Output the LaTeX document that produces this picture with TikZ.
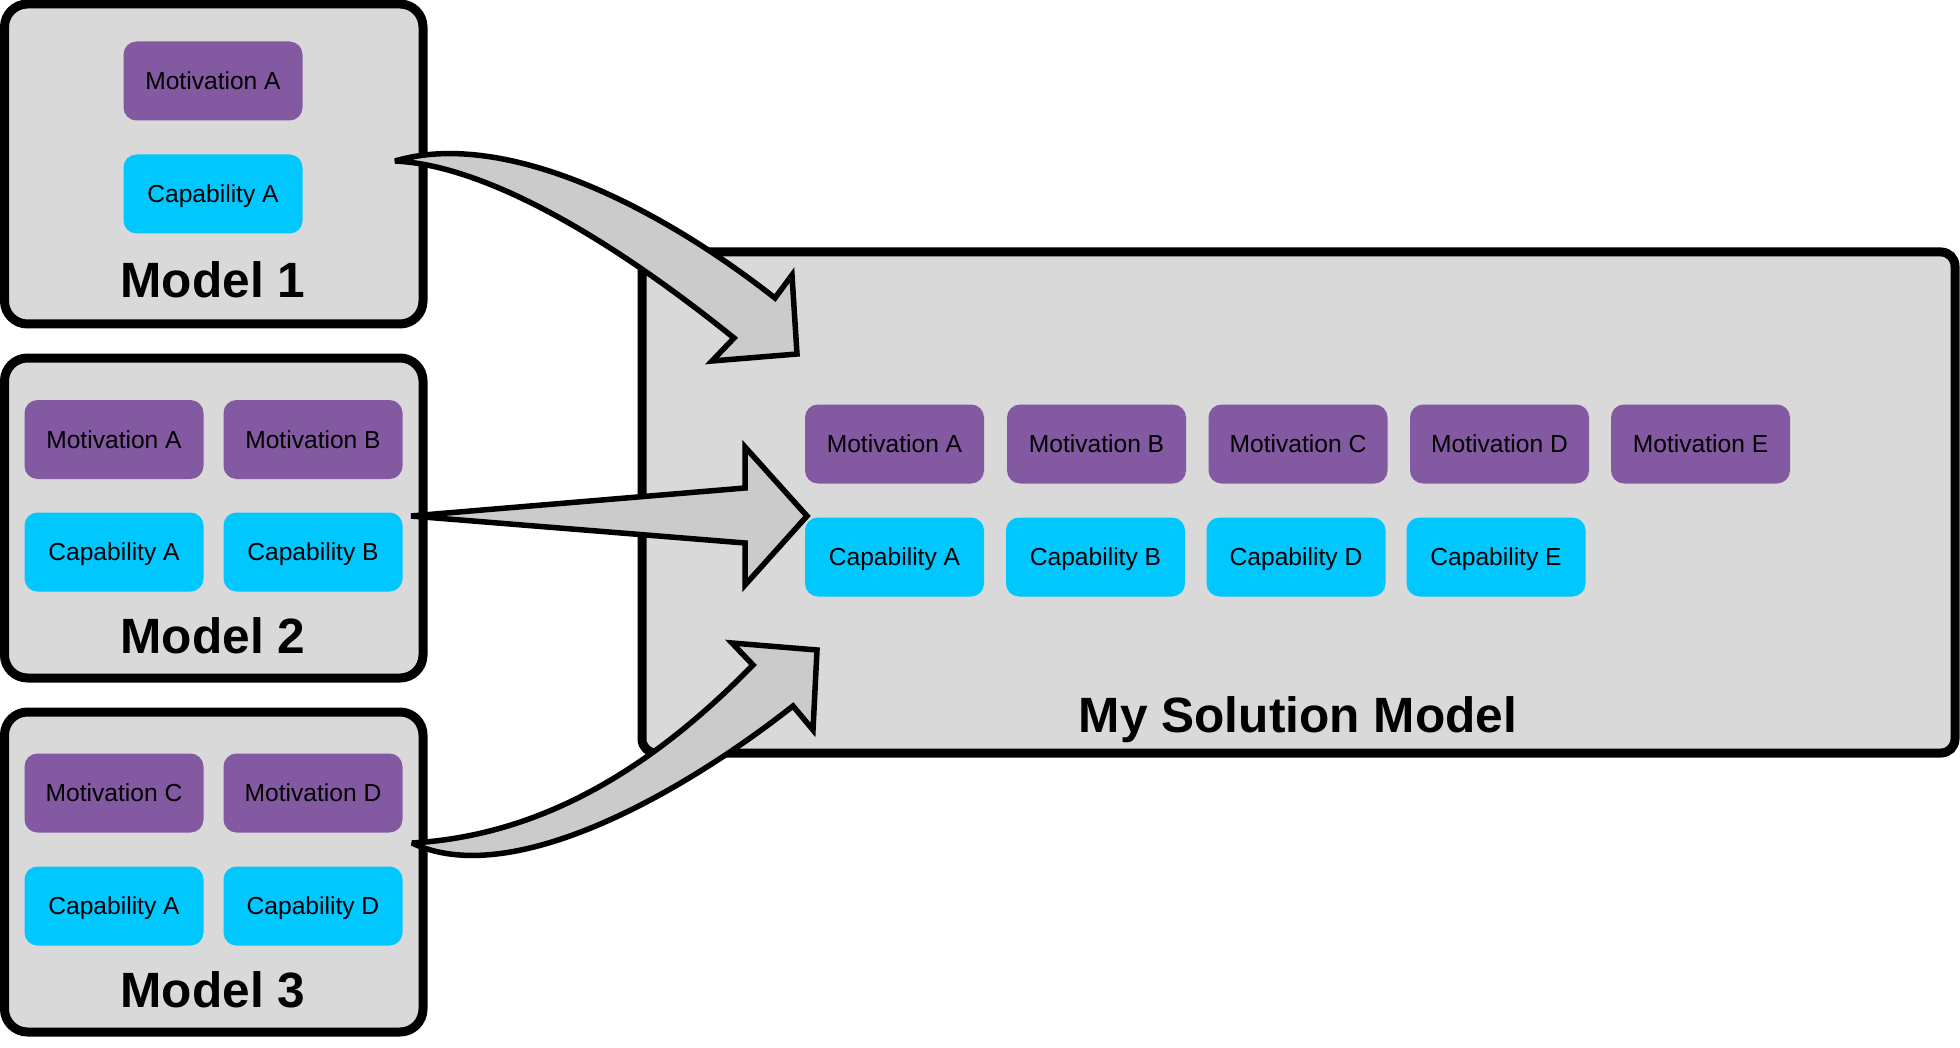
\documentclass[tikz,border=0pt]{standalone}
\usepackage{fontspec}
\setmainfont{Liberation Sans}
\definecolor{motcol}{RGB}{131,89,161}
\definecolor{capcol}{RGB}{0,200,255}
\definecolor{boxgray}{RGB}{217,217,217}
\definecolor{arrowgray}{RGB}{203,203,203}
\tikzset{
  modelbox/.style={draw=black, line width=4.5pt, fill=boxgray, rounded corners=11.5pt,
    inner sep=0pt, minimum width=209.25pt, minimum height=160pt},
  solbox/.style={draw=black, line width=4.5pt, fill=boxgray, rounded corners=7pt,
    inner sep=0pt, minimum width=656.5pt, minimum height=250.5pt},
  itembox/.style={rounded corners=6.5pt, inner sep=0pt, minimum width=89.5pt,
    minimum height=39.5pt, font=\fontsize{12.3}{14}\selectfont,
    text height=8.8pt, text depth=0pt},
  motbox/.style={itembox, fill=motcol},
  capbox/.style={itembox, fill=capcol},
  titletext/.style={font=\bfseries\fontsize{24.8}{28}\selectfont, anchor=base, inner sep=0pt},
  blockarrow/.style={draw=black, line width=2.75pt, fill=arrowgray, line join=miter, miter limit=4}
}
\begin{document}
\begin{tikzpicture}[x=0.5pt,y=-0.5pt]
\useasboundingbox (0,0) rectangle (1960,1048);

% Model boxes
\node[modelbox] (m1) at (213.75,164) {};
\node[modelbox] (m2) at (213.75,518) {};
\node[modelbox] (m3) at (213.75,872) {};
% Solution box
\node[solbox] (sol) at (1298.5,502.5) {};

% Model 1 contents
\node[motbox] (m1ma) at (213,81) {Motivation A};
\node[capbox] (m1ca) at (213,194) {Capability A};
\node[titletext] (m1t) at (213,298) {Model 1};

% Model 2 contents
\node[motbox] (m2ma) at (114,439.5) {Motivation A};
\node[motbox] (m2mb) at (313,439.5) {Motivation B};
\node[capbox] (m2ca) at (114,552) {Capability A};
\node[capbox] (m2cb) at (313,552) {Capability B};
\node[titletext] (m2t) at (213,653) {Model 2};

% Model 3 contents
\node[motbox] (m3mc) at (114,793) {Motivation C};
\node[motbox] (m3md) at (313,793) {Motivation D};
\node[capbox] (m3ca) at (114,906) {Capability A};
\node[capbox] (m3cd) at (313,906) {Capability D};
\node[titletext] (m3t) at (213,1007) {Model 3};

% Solution contents
\node[motbox] (sma) at (894.5,444) {Motivation A};
\node[motbox] (smb) at (1096.5,444) {Motivation B};
\node[motbox] (smc) at (1298,444) {Motivation C};
\node[motbox] (smd) at (1499.5,444) {Motivation D};
\node[motbox] (sme) at (1700.5,444) {Motivation E};
\node[capbox] (sca) at (894.5,557) {Capability A};
\node[capbox] (scb) at (1095.5,557) {Capability B};
\node[capbox] (scd) at (1296,557) {Capability D};
\node[capbox] (sce) at (1496,557) {Capability E};
\node[titletext] (solt) at (1298,732) {My Solution Model};

% Block arrows
\draw[blockarrow] (395,161) .. controls (500,130) and (650,200) .. (775,298)
  -- (792,275) -- (797,354) -- (712,361) -- (734,338)
  .. controls (600,230) and (480,165) .. (395,161) -- cycle;
\draw[blockarrow] (411,516) -- (745,488) -- (745,447) -- (807,516)
  -- (745,585) -- (745,543) -- cycle;
\draw[blockarrow] (412,843) .. controls (550,835) and (660,760) .. (753,665)
  -- (732,643) -- (817,650) -- (813,730) -- (793,706)
  .. controls (680,795) and (510,890) .. (412,843) -- cycle;
\end{tikzpicture}
\end{document}
